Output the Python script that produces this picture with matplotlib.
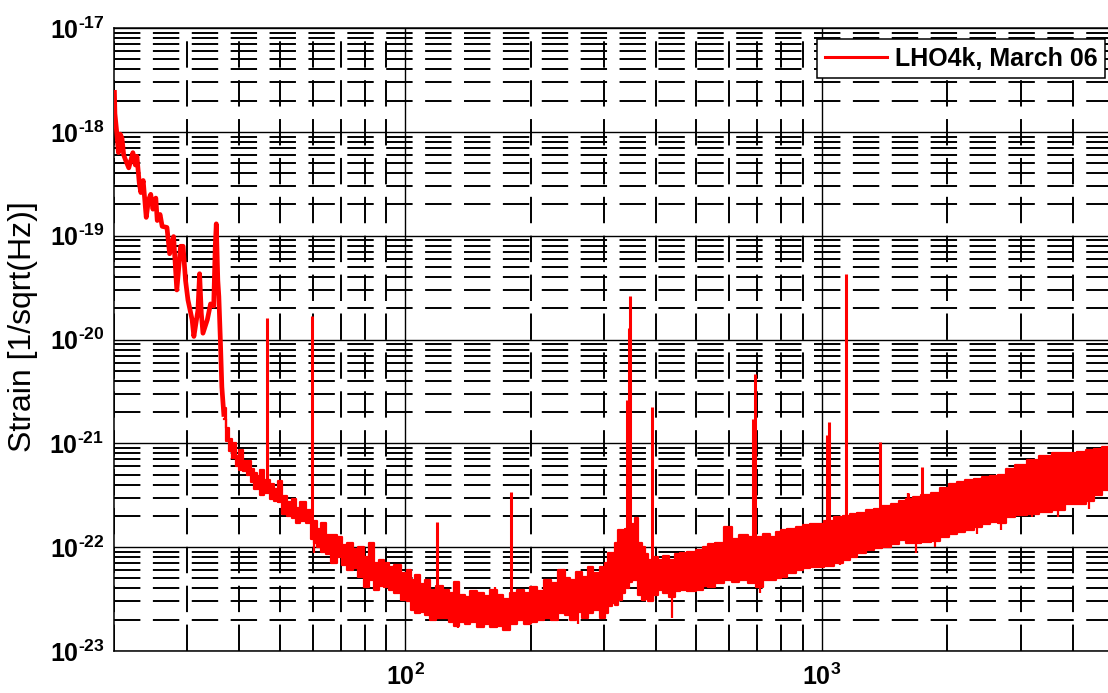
import numpy as np
import matplotlib
matplotlib.use("Agg")
import matplotlib.pyplot as plt
from matplotlib.ticker import LogLocator, FixedLocator, FuncFormatter, NullFormatter

# low-frequency part of the spectrum, traced as a line (Hz, strain/rtHz)
trace_f = [20.05, 20.1, 20.3, 20.5, 20.7, 20.9, 21.1, 21.3, 21.7, 22.0, 22.2, 22.5,
           22.7, 23.0, 23.2, 23.5, 23.9, 24.2, 24.5, 24.8, 25.2, 25.4, 25.8, 26.1,
           26.8, 27.2, 27.8, 28.3, 28.9, 29.3, 29.7, 30.1, 30.8, 31.1, 31.8, 32.1,
           32.4, 32.7, 33.5, 34.1, 34.7, 35.0, 35.2, 35.5, 35.7, 36.0, 36.3, 36.7]
trace_h = [2.4e-18, 1.5e-18, 1.0e-18, 6.3e-19, 9.5e-19, 8.7e-19, 6.0e-19, 5.4e-19,
           4.5e-19, 5.5e-19, 6.3e-19, 4.8e-19, 5.8e-19, 3.2e-19, 2.6e-19, 3.4e-19,
           1.5e-19, 2.2e-19, 2.5e-19, 1.8e-19, 2.3e-19, 1.4e-19, 1.6e-19, 1.23e-19,
           1.2e-19, 6.7e-20, 9.8e-20, 3.0e-20, 7.9e-20, 7.9e-20, 3.7e-20, 2.4e-20,
           1.55e-20, 1.07e-20, 1.9e-20, 4.3e-20, 1.8e-20, 1.15e-20, 1.55e-20, 2.2e-20,
           2.1e-20, 7.9e-20, 1.3e-19, 3.7e-20, 2.6e-20, 1.0e-20, 3.5e-21, 1.9e-21]

# noise floor: upper and lower edge of the red band
band_f = [36.7, 37.4, 38.0, 38.8, 39.5, 40.2, 41.2, 42.3, 43.0, 43.7, 44.4, 45.0,
          46.6, 48.0, 49.0, 50.1, 51.3, 53.0, 54.0, 55.1, 56.9, 58.5, 60.3, 60.8,
          62.0, 63.7, 65.5, 67.2, 69.9, 71.5, 73.8, 76.0, 78.0, 80.9, 83.2, 85.5,
          87.1, 90.4, 92.0, 95.5, 100, 102, 104.5, 106.7, 110, 113, 116.7, 121,
          125.9, 129, 133, 137, 140.6, 146, 151.4, 157, 162.9, 169, 175.3, 182,
          188.7, 196, 203.1, 211, 218.7, 228, 237.6, 245, 253.3, 262, 270, 277.8,
          288, 298.8, 305, 310, 316, 322, 328, 334, 341, 347, 353, 359, 366, 373,
          380, 387, 398, 409, 423, 438, 450, 465, 487, 510, 525, 539, 567, 596,
          620, 648, 680, 710, 737, 764, 785, 808, 846, 886, 920, 953, 989, 1040,
          1104, 1150, 1189, 1245, 1304, 1365, 1429, 1500, 1567, 1625, 1687, 1780,
          1884, 1970, 2065, 2160, 2264, 2370, 2483, 2590, 2697, 2824, 3000, 3211,
          3450, 3687, 4004, 4200, 4392, 4600, 4817, 5000]
band_hi = [2.2e-21, 1.4e-21, 1.1e-21, 1.0e-21, 7.5e-22, 8.6e-22, 6.8e-22, 6.8e-22,
           5.6e-22, 5.2e-22, 4.8e-22, 5.5e-22, 4.4e-22, 4.1e-22, 3.6e-22, 4.3e-22,
           3.1e-22, 2.7e-22, 2.9e-22, 2.4e-22, 2.7e-22, 2.3e-22, 1.8e-22, 1.8e-22,
           1.5e-22, 1.7e-22, 1.3e-22, 1.3e-22, 1.25e-22, 1.05e-22, 1.1e-22, 9.5e-23,
           1.0e-22, 8.1e-23, 1.1e-22, 7.0e-23, 7.5e-23, 7.0e-23, 6.4e-23, 6.8e-23,
           5.6e-23, 6.0e-23, 4.8e-23, 5.4e-23, 4.4e-23, 4.8e-23, 3.9e-23, 4.2e-23,
           3.9e-23, 3.6e-23, 4.6e-23, 3.5e-23, 3.3e-23, 3.8e-23, 3.6e-23, 3.4e-23,
           3.9e-23, 3.5e-23, 3.2e-23, 3.6e-23, 3.9e-23, 3.6e-23, 4.1e-23, 3.8e-23,
           4.8e-23, 4.5e-23, 6.0e-23, 5.0e-23, 4.8e-23, 5.8e-23, 5.2e-23, 6.4e-23,
           5.6e-23, 6.4e-23, 7.0e-23, 8.7e-23, 8.7e-23, 1.1e-22, 1.46e-22, 1.46e-22,
           1.5e-22, 1.6e-22, 1.69e-22, 1.89e-22, 1.1e-22, 1.0e-22, 8.5e-23, 7.5e-23,
           8.0e-23, 7.5e-23, 8.2e-23, 7.5e-23, 8.6e-23, 8.7e-23, 9.0e-23, 9.4e-23,
           1.0e-22, 1.08e-22, 1.1e-22, 1.57e-22, 1.2e-22, 1.31e-22, 1.25e-22, 1.26e-22,
           1.35e-22, 1.26e-22, 1.4e-22, 1.46e-22, 1.5e-22, 1.57e-22, 1.62e-22, 1.69e-22,
           1.69e-22, 1.8e-22, 1.96e-22, 2.0e-22, 2.1e-22, 2.15e-22, 2.27e-22, 2.35e-22,
           2.5e-22, 2.6e-22, 2.8e-22, 2.9e-22, 3.05e-22, 3.15e-22, 3.3e-22, 3.7e-22,
           4.1e-22, 4.2e-22, 4.4e-22, 4.5e-22, 4.75e-22, 4.8e-22, 5.0e-22, 5.7e-22,
           6.2e-22, 6.9e-22, 7.5e-22, 8.0e-22, 8.0e-22, 8.3e-22, 8.6e-22, 8.8e-22,
           9.2e-22, 9.2e-22]
band_lo = [1.7e-21, 1.05e-21, 8.5e-22, 7.2e-22, 6.0e-22, 5.5e-22, 5.4e-22, 5.0e-22,
           4.2e-22, 3.6e-22, 3.6e-22, 3.2e-22, 3.3e-22, 2.9e-22, 2.8e-22, 2.7e-22,
           2.1e-22, 2.0e-22, 1.9e-22, 1.7e-22, 1.8e-22, 1.7e-22, 1.2e-22, 1.1e-22,
           1.0e-22, 9.0e-23, 8.5e-23, 7.0e-23, 8.1e-23, 6.8e-23, 6.0e-23, 6.3e-23,
           5.2e-23, 4.1e-23, 4.8e-23, 3.9e-23, 4.2e-23, 4.1e-23, 3.9e-23, 3.6e-23,
           3.1e-23, 3.0e-23, 2.5e-23, 2.3e-23, 2.4e-23, 2.2e-23, 2.0e-23, 2.1e-23,
           2.1e-23, 1.9e-23, 1.75e-23, 1.9e-23, 1.8e-23, 1.9e-23, 1.7e-23, 1.8e-23,
           1.7e-23, 1.75e-23, 1.6e-23, 1.8e-23, 2.0e-23, 1.8e-23, 1.9e-23, 2.0e-23,
           2.1e-23, 2.0e-23, 2.3e-23, 2.2e-23, 2.0e-23, 2.4e-23, 2.1e-23, 2.3e-23,
           2.5e-23, 2.1e-23, 2.3e-23, 2.7e-23, 2.9e-23, 2.8e-23, 3.1e-23, 3.6e-23,
           4.0e-23, 4.6e-23, 4.8e-23, 4.8e-23, 3.5e-23, 3.1e-23, 3.2e-23, 3.0e-23,
           3.5e-23, 3.9e-23, 3.6e-23, 3.3e-23, 3.8e-23, 3.9e-23, 3.8e-23, 3.9e-23,
           4.2e-23, 4.1e-23, 4.5e-23, 4.8e-23, 4.6e-23, 4.8e-23, 4.5e-23, 4.1e-23,
           4.8e-23, 4.8e-23, 5.0e-23, 5.2e-23, 5.6e-23, 6.0e-23, 6.3e-23, 6.4e-23,
           6.4e-23, 6.6e-23, 7.0e-23, 7.6e-23, 8.1e-23, 8.8e-23, 9.3e-23, 9.8e-23,
           1.0e-22, 1.08e-22, 1.17e-22, 1.1e-22, 1.1e-22, 1.12e-22, 1.15e-22, 1.25e-22,
           1.35e-22, 1.4e-22, 1.46e-22, 1.55e-22, 1.69e-22, 1.75e-22, 1.7e-22, 1.96e-22,
           2.05e-22, 2.1e-22, 2.2e-22, 2.3e-22, 2.6e-22, 2.6e-22, 2.8e-22, 3.2e-22,
           3.54e-22, 3.6e-22]

# narrow lines sticking out of the floor
line_f = [46.6, 59.6, 119, 179.3, 340, 345, 347, 392, 682, 693, 1030, 1040, 1140,
          1377, 1611, 1744]
line_base = [3.5e-22, 1.7e-22, 3.0e-23, 2.5e-23, 5e-23, 5e-23, 5e-23, 4e-23, 6e-23,
             6e-23, 1e-22, 1e-22, 1e-22, 1.3e-22, 1.5e-22, 1.7e-22]
line_peak = [1.6e-20, 1.7e-20, 1.75e-22, 3.4e-22, 2.6e-21, 1.3e-20, 2.6e-20, 2.25e-21,
             1.7e-21, 4.7e-21, 1.2e-21, 1.6e-21, 4.3e-20, 1.03e-21, 3.3e-22, 5.9e-22]

# short noise hairs on the band edges (downward dips, then upward spikes)
dip_f = [60.3, 118, 134, 177, 200, 260, 296, 393, 438, 710, 1104, 1687, 1865, 2353,
         2697, 3190, 3687, 4370]
dip_top = [1.6e-22, 3.0e-23, 3.0e-23, 3.0e-23, 3.2e-23, 3.4e-23, 4.0e-23, 5.0e-23,
           4.5e-23, 6.0e-23, 1.1e-22, 1.5e-22, 1.7e-22, 2.2e-22, 2.5e-22, 3.2e-22,
           3.6e-22, 4.0e-22]
dip_low = [8.7e-23, 2.0e-23, 1.65e-23, 1.6e-23, 1.8e-23, 1.84e-23, 2.1e-23, 3.0e-23,
           2.06e-23, 3.6e-23, 6.8e-23, 8.7e-23, 1.0e-22, 1.35e-22, 1.46e-22, 1.96e-22,
           1.96e-22, 2.35e-22]
hair_f = [83.2, 107, 133, 164, 238, 278, 316, 353, 539, 596, 648, 1611, 2212, 2790,
          3190, 3721, 4470]
hair_low = [7.0e-23, 3.8e-23, 3.0e-23, 2.8e-23, 4.0e-23, 4.5e-23, 5.5e-23, 1.0e-22,
            7.0e-23, 8.0e-23, 8.0e-23, 2.0e-22, 3.0e-22, 4.0e-22, 5.0e-22, 6.0e-22, 7.0e-22]
hair_top = [1.1e-22, 5.4e-23, 4.6e-23, 4.1e-23, 6.0e-23, 6.6e-23, 8.7e-23, 1.69e-22,
            1.08e-22, 1.57e-22, 1.31e-22, 3.3e-22, 4.2e-22, 5.7e-22, 6.9e-22, 8.3e-22, 8.9e-22]

x_ticks = [1e2, 1e3]
y_ticks = [1e-23, 1e-22, 1e-21, 1e-20, 1e-19, 1e-18, 1e-17]
legend_label = "LHO4k, March 06"

plt.rcParams["font.family"] = "Liberation Sans"
plt.rcParams["mathtext.fontset"] = "custom"
plt.rcParams["mathtext.rm"] = "Liberation Sans:bold"
plt.rcParams["mathtext.bf"] = "Liberation Sans:bold"
plt.rcParams["lines.scale_dashes"] = False

red = "#ff0000"

fig = plt.figure(figsize=(11.08, 6.93), dpi=100)
ax = fig.add_axes([114 / 1108, 42 / 693, 999 / 1108, 623 / 693])
ax.set_xscale("log")
ax.set_yscale("log")
ax.set_xlim(20, 5000)
ax.set_ylim(1e-23, 1e-17)

ax.fill_between(band_f, band_lo, band_hi, color=red, lw=0, step="mid", zorder=3)
ax.plot(band_f, band_hi, color=red, lw=1.6, drawstyle="steps-mid", zorder=3)
ax.plot(band_f, band_lo, color=red, lw=1.6, drawstyle="steps-mid", zorder=3)
ax.vlines(dip_f, dip_low, dip_top, color=red, lw=1.6, zorder=3)
ax.vlines(hair_f, hair_low, hair_top, color=red, lw=1.6, zorder=3)
ax.vlines(line_f, line_base, line_peak, color=red, lw=2.2, zorder=3)
ax.plot(trace_f, trace_h, color=red, lw=3.4, zorder=3, label=legend_label)

ax.xaxis.set_major_locator(FixedLocator(x_ticks))
ax.yaxis.set_major_locator(FixedLocator(y_ticks))
ax.xaxis.set_minor_locator(LogLocator(base=10, subs=range(2, 10), numticks=20))
ax.yaxis.set_minor_locator(LogLocator(base=10, subs=range(2, 10), numticks=20))
ax.xaxis.set_minor_formatter(NullFormatter())
ax.yaxis.set_minor_formatter(NullFormatter())


def pow10(v, pos):
    e = int(round(np.log10(v)))
    return r"$10^{\text{%d}}$" % e


ax.xaxis.set_major_formatter(FuncFormatter(pow10))
ax.yaxis.set_major_formatter(FuncFormatter(pow10))
ax.tick_params(which="both", length=0)
ax.tick_params(axis="x", labelsize=18, pad=9)
ax.tick_params(axis="y", labelsize=18, pad=7)

ax.grid(True, which="major", color="black", lw=1.0, ls="-", zorder=1)
ax.grid(True, which="minor", color="black", lw=1.4, ls=(0, (19, 9)), zorder=1)
ax.set_axisbelow(True)
for s in ax.spines.values():
    s.set_linewidth(1.1)

ax.set_ylabel("Strain [1/sqrt(Hz)]", fontsize=23)
ax.yaxis.set_label_coords(-0.076, 0.52)

leg = ax.legend(loc="upper right", bbox_to_anchor=(1105 / 1108, 1 - 39 / 693),
                bbox_transform=fig.transFigure, borderaxespad=0, fancybox=False,
                edgecolor="black", framealpha=1, handlelength=2.5, handletextpad=0.3,
                borderpad=0.3, prop={"size": 18, "weight": "bold"})
leg.get_frame().set_linewidth(1.1)
leg.get_lines()[0].set_linewidth(2.2)

fig.savefig("out.png", dpi=100)
